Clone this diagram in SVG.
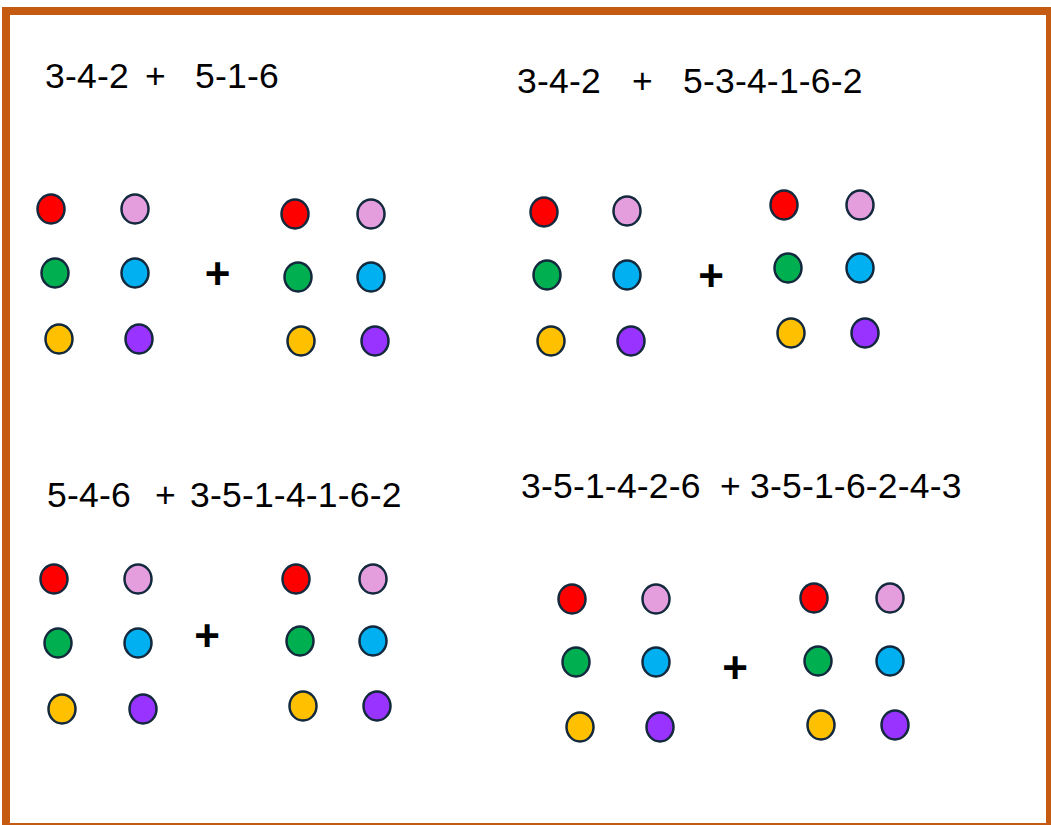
<svg xmlns="http://www.w3.org/2000/svg" width="1051" height="825" viewBox="0 0 1051 825">
<style>
.t{font-family:"Liberation Sans",Arial,sans-serif;font-size:35.5px;letter-spacing:0.2px;fill:#000}
.p{font-family:"Liberation Sans",Arial,sans-serif;font-size:44px;font-weight:bold;fill:#000;text-anchor:middle}
ellipse{stroke:#13293D;stroke-width:2.5}
.r{fill:#FF0000}.k{fill:#E59EDD}.g{fill:#00B050}.b{fill:#00B0F0}.y{fill:#FFC000}.v{fill:#9933FF}
</style>
<rect x="0" y="0" width="1051" height="825" fill="#fff"/>
<rect x="6" y="11" width="1044" height="816" fill="none" stroke="#C55A11" stroke-width="8"/>

<g id="panel1">
<text class="t"><tspan x="45" y="88">3-4-2</tspan><tspan x="145" y="88">+</tspan><tspan x="195" y="88">5-1-6</tspan></text>
<g id="p1a">
<ellipse class="r" cx="51" cy="209" rx="13.5" ry="14.5"/>
<ellipse class="k" cx="135" cy="209" rx="13.5" ry="14.5"/>
<ellipse class="g" cx="55" cy="273" rx="13.5" ry="14.5"/>
<ellipse class="b" cx="135" cy="273" rx="13.5" ry="14.5"/>
<ellipse class="y" cx="59" cy="339" rx="13.5" ry="14.5"/>
<ellipse class="v" cx="139" cy="339" rx="13.5" ry="14.5"/>
</g>
<text class="p" x="217.5" y="289">+</text>
<g id="p1b">
<ellipse class="r" cx="295" cy="214" rx="13.5" ry="14.5"/>
<ellipse class="k" cx="371" cy="214" rx="13.5" ry="14.5"/>
<ellipse class="g" cx="298" cy="277" rx="13.5" ry="14.5"/>
<ellipse class="b" cx="371" cy="277" rx="13.5" ry="14.5"/>
<ellipse class="y" cx="301" cy="341" rx="13.5" ry="14.5"/>
<ellipse class="v" cx="375" cy="341" rx="13.5" ry="14.5"/>
</g>
</g>

<g id="panel2">
<text class="t"><tspan x="517" y="93">3-4-2</tspan><tspan x="632" y="93">+</tspan><tspan x="683" y="93">5-3-4-1-6-2</tspan></text>
<g id="p2a">
<ellipse class="r" cx="544" cy="212" rx="13.5" ry="14.5"/>
<ellipse class="k" cx="627" cy="211" rx="13.5" ry="14.5"/>
<ellipse class="g" cx="547" cy="275" rx="13.5" ry="14.5"/>
<ellipse class="b" cx="627" cy="275" rx="13.5" ry="14.5"/>
<ellipse class="y" cx="551" cy="341" rx="13.5" ry="14.5"/>
<ellipse class="v" cx="631" cy="341" rx="13.5" ry="14.5"/>
</g>
<text class="p" x="711" y="291">+</text>
<g id="p2b">
<ellipse class="r" cx="784" cy="205" rx="13.5" ry="14.5"/>
<ellipse class="k" cx="860" cy="205" rx="13.5" ry="14.5"/>
<ellipse class="g" cx="788" cy="268" rx="13.5" ry="14.5"/>
<ellipse class="b" cx="860" cy="268" rx="13.5" ry="14.5"/>
<ellipse class="y" cx="791" cy="333" rx="13.5" ry="14.5"/>
<ellipse class="v" cx="865" cy="333" rx="13.5" ry="14.5"/>
</g>
</g>

<g id="panel3">
<text class="t"><tspan x="47" y="507">5-4-6</tspan><tspan x="155" y="507">+</tspan><tspan x="190" y="507">3-5-1-4-1-6-2</tspan></text>
<g id="p3a">
<ellipse class="r" cx="54" cy="579" rx="13.5" ry="14.5"/>
<ellipse class="k" cx="138" cy="579" rx="13.5" ry="14.5"/>
<ellipse class="g" cx="58" cy="643" rx="13.5" ry="14.5"/>
<ellipse class="b" cx="138" cy="643" rx="13.5" ry="14.5"/>
<ellipse class="y" cx="62" cy="709" rx="13.5" ry="14.5"/>
<ellipse class="v" cx="143" cy="709" rx="13.5" ry="14.5"/>
</g>
<text class="p" x="207" y="651">+</text>
<g id="p3b">
<ellipse class="r" cx="296" cy="579" rx="13.5" ry="14.5"/>
<ellipse class="k" cx="373" cy="579" rx="13.5" ry="14.5"/>
<ellipse class="g" cx="300" cy="641" rx="13.5" ry="14.5"/>
<ellipse class="b" cx="373" cy="641" rx="13.5" ry="14.5"/>
<ellipse class="y" cx="303" cy="706" rx="13.5" ry="14.5"/>
<ellipse class="v" cx="377" cy="706" rx="13.5" ry="14.5"/>
</g>
</g>

<g id="panel4">
<text class="t"><tspan x="521" y="498">3-5-1-4-2-6</tspan><tspan x="720" y="498">+</tspan><tspan x="750" y="498">3-5-1-6-2-4-3</tspan></text>
<g id="p4a">
<ellipse class="r" cx="572" cy="599" rx="13.5" ry="14.5"/>
<ellipse class="k" cx="656" cy="599" rx="13.5" ry="14.5"/>
<ellipse class="g" cx="576" cy="662" rx="13.5" ry="14.5"/>
<ellipse class="b" cx="656" cy="662" rx="13.5" ry="14.5"/>
<ellipse class="y" cx="580" cy="727" rx="13.5" ry="14.5"/>
<ellipse class="v" cx="660" cy="727" rx="13.5" ry="14.5"/>
</g>
<text class="p" x="735" y="683">+</text>
<g id="p4b">
<ellipse class="r" cx="814" cy="598" rx="13.5" ry="14.5"/>
<ellipse class="k" cx="890" cy="598" rx="13.5" ry="14.5"/>
<ellipse class="g" cx="818" cy="661" rx="13.5" ry="14.5"/>
<ellipse class="b" cx="890" cy="661" rx="13.5" ry="14.5"/>
<ellipse class="y" cx="821" cy="725" rx="13.5" ry="14.5"/>
<ellipse class="v" cx="895" cy="725" rx="13.5" ry="14.5"/>
</g>
</g>
</svg>
